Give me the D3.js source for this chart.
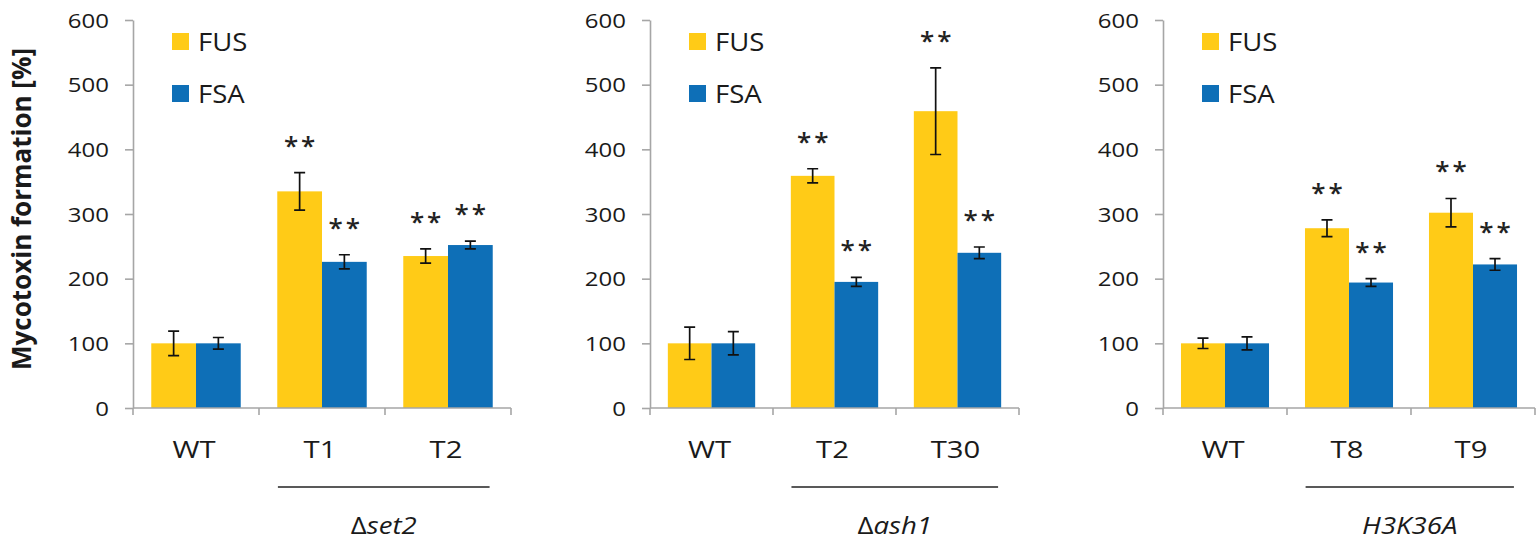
<!DOCTYPE html>
<html>
<head>
<meta charset="utf-8">
<script src="https://cdn.jsdelivr.net/npm/d3@7"></script>
<style>
	body { margin: 0; background: #fff; }
	svg { display: block; font-family: "Open Sans", sans-serif; }
</style>
</head>
<body>
<svg id="chart" width="1536" height="543"></svg>
<script>
/* global d3 */

const seriesNames = ["FUS", "FSA"];
const seriesColors = ["#FFCB17", "#0E6FB7"];
const yTicks = [0, 100, 200, 300, 400, 500, 600];

const panelCategories = [
	["WT", "T1", "T2"],
	["WT", "T2", "T30"],
	["WT", "T8", "T9"],
];
const groupPrefix = ["Δ", "Δ", ""];
const groupNames = ["set2", "ash1", "H3K36A"];

const fusValues = [
	[100, 335, 235],
	[100, 359, 459],
	[100, 278, 302],
];
const fusErrors = [
	[19, 29, 11],
	[25, 11, 67],
	[8, 13, 22],
];
const fsaValues = [
	[100, 226, 252],
	[100, 195, 240],
	[100, 194, 222],
];
const fsaErrors = [
	[9, 11, 6],
	[18, 7, 9],
	[10, 6, 9],
];
const fusSignificant = [
	[false, true, true],
	[false, true, true],
	[false, true, true],
];
const fsaSignificant = [
	[false, true, true],
	[false, true, true],
	[false, true, true],
];

const panelLeft = [133, 650, 1163];
const panelRight = [511, 1019, 1535];
const plotTop = 20;
const plotBottom = 408;
const axisColor = "#A6A6A6";
const textColor = "#1A1A1A";

const svg = d3.select("#chart");
const y = d3.scaleLinear().domain([0, 600]).range([plotBottom, plotTop]);

// y axis title, stretched like the source figure
svg
	.append("text")
	.attr("transform", "translate(31,209) scale(1.22,1) rotate(-90)")
	.attr("text-anchor", "middle")
	.attr("textLength", 322)
	.attr("lengthAdjust", "spacingAndGlyphs")
	.attr("font-size", 22)
	.attr("font-weight", 700)
	.attr("fill", textColor)
	.text("Mycotoxin formation [%]");

function drawPanel(p) {
	const cats = panelCategories[p];
	const x = d3.scaleBand().domain(cats).range([panelLeft[p], panelRight[p]]).paddingInner(0.29).paddingOuter(0.145);
	const xs = d3.scaleBand().domain(seriesNames).range([0, x.bandwidth()]);
	const g = svg.append("g");

	const rows = [];
	cats.forEach((cat, j) => {
		rows.push({ cat, series: "FUS", value: fusValues[p][j], err: fusErrors[p][j], sig: fusSignificant[p][j] });
		rows.push({ cat, series: "FSA", value: fsaValues[p][j], err: fsaErrors[p][j], sig: fsaSignificant[p][j] });
	});
	const cx = (d) => x(d.cat) + xs(d.series) + xs.bandwidth() / 2;

	g.selectAll("rect.bar")
		.data(rows)
		.join("rect")
		.attr("class", "bar")
		.attr("x", (d) => x(d.cat) + xs(d.series))
		.attr("y", (d) => y(d.value))
		.attr("width", xs.bandwidth())
		.attr("height", (d) => y(0) - y(d.value))
		.attr("fill", (d) => seriesColors[seriesNames.indexOf(d.series)]);

	// error bars
	g.selectAll("path.err")
		.data(rows)
		.join("path")
		.attr("class", "err")
		.attr("fill", "none")
		.attr("stroke", "#111")
		.attr("stroke-width", 1.7)
		.attr("d", (d) => {
			const c = cx(d);
			const t = y(d.value + d.err);
			const b = y(d.value - d.err);
			return `M${c - 5.5},${t}H${c + 5.5}M${c},${t}V${b}M${c - 5.5},${b}H${c + 5.5}`;
		});

	// significance stars
	g.selectAll("text.star")
		.data(rows.filter((d) => d.sig))
		.join("text")
		.attr("class", "star")
		.attr("x", (d) => cx(d) + 1.5)
		.attr("y", (d) => y(d.value + d.err) - 33 + 15)
		.attr("text-anchor", "middle")
		.attr("font-size", 26)
		.attr("font-weight", 600)
		.attr("letter-spacing", 3)
		.attr("fill", "#222")
		.text("**");

	// y axis
	const yAxis = g.append("g").attr("transform", `translate(${panelLeft[p]},0)`).call(d3.axisLeft(y).tickValues(yTicks).tickSize(8).tickSizeOuter(0));
	yAxis.select(".domain").attr("stroke", axisColor).attr("stroke-width", 1.6);
	yAxis.selectAll(".tick line").attr("stroke", axisColor).attr("stroke-width", 1.6);
	yAxis
		.selectAll(".tick text")
		.attr("x", null)
		.attr("dy", "0.36em")
		.attr("transform", "translate(-24,0) scale(1.2,1)")
		.attr("font-size", 20)
		.attr("font-family", "Open Sans, sans-serif")
		.attr("fill", textColor);

	// x axis with ticks on band boundaries
	const step = x.step();
	const start = x(cats[0]) - (x.paddingInner() * step) / 2;
	const bounds = d3.range(cats.length + 1).map((j) => start + j * step);
	g.append("line")
		.attr("x1", panelLeft[p])
		.attr("x2", panelRight[p])
		.attr("y1", y(0))
		.attr("y2", y(0))
		.attr("stroke", axisColor)
		.attr("stroke-width", 1.6);
	g.selectAll("line.xtick")
		.data(bounds)
		.join("line")
		.attr("class", "xtick")
		.attr("x1", (d) => d)
		.attr("x2", (d) => d)
		.attr("y1", y(0))
		.attr("y2", y(0) + 7)
		.attr("stroke", axisColor)
		.attr("stroke-width", 1.6);
	g.selectAll("text.cat")
		.data(cats)
		.join("text")
		.attr("class", "cat")
		.attr("transform", (d) => `translate(${x(d) + x.bandwidth() / 2 - 2},458) scale(1.22,1)`)
		.attr("text-anchor", "middle")
		.attr("font-size", 24)
		.attr("fill", textColor)
		.text((d) => d);

	// group bracket
	const lineStart = start + 1.15 * step;
	const lineEnd = start + 2.83 * step;
	g.append("line")
		.attr("x1", lineStart)
		.attr("x2", lineEnd)
		.attr("y1", 487)
		.attr("y2", 487)
		.attr("stroke", "#222")
		.attr("stroke-width", 1.6);
	const label = g
		.append("text")
		.attr("transform", `translate(${(lineStart + lineEnd) / 2},534) scale(1.15,1)`)
		.attr("text-anchor", "middle")
		.attr("font-size", 24)
		.attr("fill", textColor);
	label.append("tspan").text(groupPrefix[p]);
	label.append("tspan").attr("font-style", "italic").text(groupNames[p]);

	// legend
	const legend = g
		.selectAll("g.legend")
		.data(seriesNames)
		.join("g")
		.attr("class", "legend")
		.attr("transform", (d, k) => `translate(${panelLeft[p] + 39},${33 + k * 52})`);
	legend
		.append("rect")
		.attr("width", 17)
		.attr("height", 17)
		.attr("fill", (d, k) => seriesColors[k]);
	legend
		.append("text")
		.attr("transform", "translate(26,17.5) scale(1.1,1)")
		.attr("font-size", 25)
		.attr("fill", textColor)
		.text((d) => d);
}

panelCategories.forEach((cats, p) => drawPanel(p));
</script>
</body>
</html>
